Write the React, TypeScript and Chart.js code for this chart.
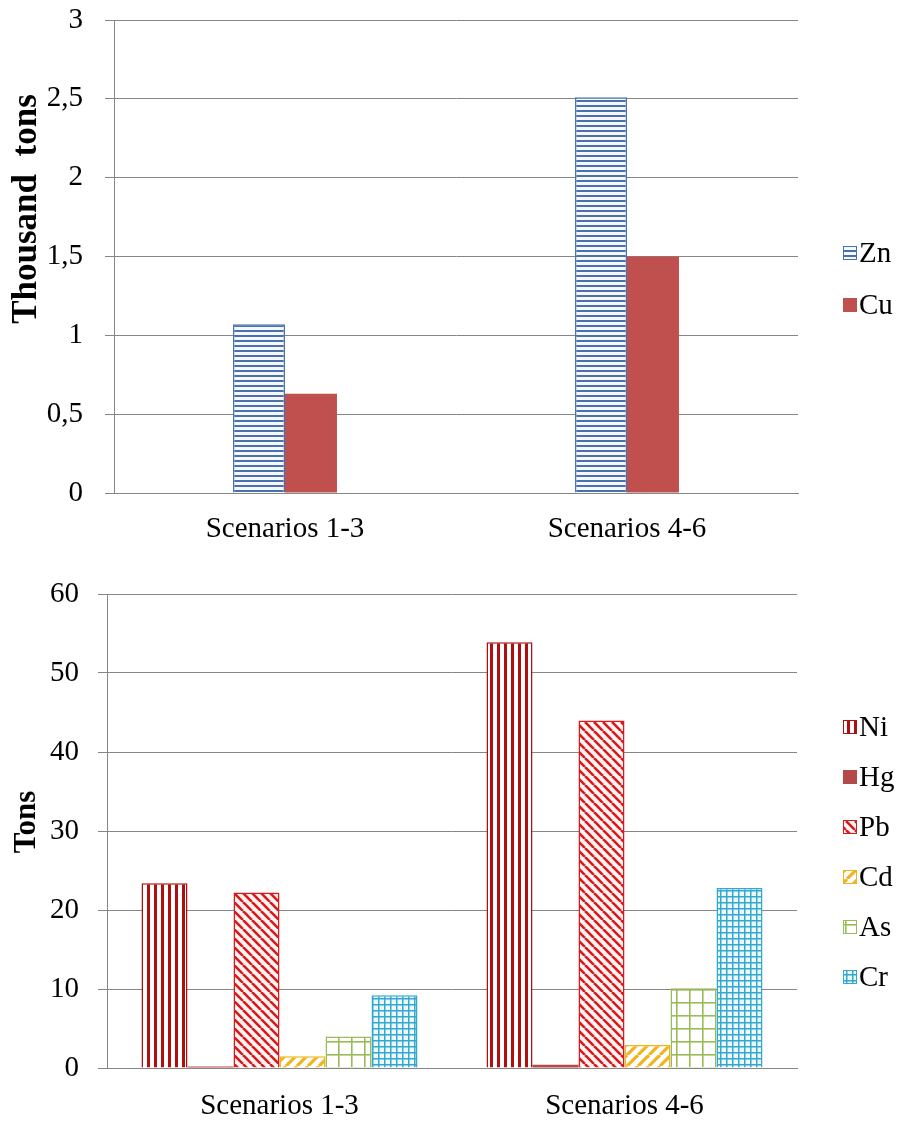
import React, { useEffect, useRef } from 'react';
import { Chart, registerables } from 'chart.js';

Chart.register(...registerables);

// ---------- data ----------
const categories = ['Scenarios 1-3', 'Scenarios 4-6'];

const topSeriesNames = ['Zn', 'Cu'];
const znValues = [1.07, 2.51];
const cuValues = [0.63, 1.5];
const topTickLabels = ['0', '0,5', '1', '1,5', '2', '2,5', '3'];
const topAxisTitle = 'Thousand  tons';

const bottomSeriesNames = ['Ni', 'Hg', 'Pb', 'Cd', 'As', 'Cr'];
const niValues = [23.4, 53.9];
const hgValues = [0.2, 0.4];
const pbValues = [22.2, 44.0];
const cdValues = [1.5, 2.9];
const asValues = [4.0, 10.1];
const crValues = [9.2, 22.8];
const bottomTickLabels = ['0', '10', '20', '30', '40', '50', '60'];
const bottomAxisTitle = 'Tons';

// ---------- styling ----------
const FONT = "'Liberation Serif', 'Times New Roman', serif";
const GRID = '#868686';
const TEXT_SIZE = 29;

function makePattern(kind: string, fg: string, bg: string): CanvasPattern | string {
  const c = document.createElement('canvas');
  let w = 8;
  let h = 8;
  if (kind === 'hstripe') { w = 8; h = 5; }
  if (kind === 'vstripe') { w = 7; h = 8; }
  if (kind === 'diagDown') { w = 9; h = 9; }
  if (kind === 'diagUp') { w = 11; h = 11; }
  if (kind === 'bigGrid') { w = 13; h = 13; }
  if (kind === 'smallGrid') { w = 6; h = 6; }
  c.width = w;
  c.height = h;
  const g = c.getContext('2d');
  if (!g) return fg;
  g.fillStyle = bg;
  g.fillRect(0, 0, w, h);
  g.fillStyle = fg;
  g.strokeStyle = fg;
  if (kind === 'hstripe') {
    g.fillRect(0, 0, w, 2);
  } else if (kind === 'vstripe') {
    g.fillRect(0, 0, 3, h);
  } else if (kind === 'diagDown' || kind === 'diagUp') {
    g.lineWidth = kind === 'diagDown' ? 2.6 : 3.2;
    for (const o of [-w, 0, w]) {
      g.beginPath();
      if (kind === 'diagDown') {
        g.moveTo(o, 0);
        g.lineTo(o + w, h);
      } else {
        g.moveTo(o, h);
        g.lineTo(o + w, 0);
      }
      g.stroke();
    }
  } else if (kind === 'bigGrid' || kind === 'smallGrid') {
    const lw = kind === 'bigGrid' ? 1.6 : 1.5;
    g.fillRect(0, 0, w, lw);
    g.fillRect(0, 0, lw, h);
  }
  return g.createPattern(c, 'repeat') || fg;
}

const titlePlugin = (text: string, x: number, y: number, size: number) => ({
  id: 'sideTitle',
  afterDraw(chart: any) {
    const ctx = chart.ctx;
    ctx.save();
    ctx.translate(x, y);
    ctx.rotate(-Math.PI / 2);
    ctx.font = `bold ${size}px ${FONT}`;
    ctx.fillStyle = '#000';
    ctx.textAlign = 'center';
    ctx.textBaseline = 'middle';
    ctx.fillText(text, 0, 0);
    ctx.restore();
  },
});

const legendPlugin = (x: number, firstY: number, step: number) => ({
  id: 'sideLegend',
  afterDraw(chart: any) {
    const ctx = chart.ctx;
    ctx.save();
    chart.data.datasets.forEach((ds: any, i: number) => {
      const cy = firstY + i * step;
      ctx.fillStyle = ds.backgroundColor;
      ctx.fillRect(x, cy - 7, 14, 14);
      ctx.strokeStyle = ds.borderColor;
      ctx.lineWidth = 1;
      ctx.strokeRect(x + 0.5, cy - 6.5, 13, 13);
      ctx.fillStyle = '#000';
      ctx.font = `${TEXT_SIZE}px ${FONT}`;
      ctx.textAlign = 'left';
      ctx.textBaseline = 'middle';
      ctx.fillText(ds.label, x + 16, cy + 1);
    });
    ctx.restore();
  },
});

function baseOptions(opts: {
  max: number;
  step: number;
  labels: string[];
  axisWidth: number;
  xHeight: number;
  padTop: number;
  padRight: number;
  catPct: number;
  yPad: number;
  xPad: number;
}) {
  return {
    responsive: false,
    animation: false as const,
    events: [],
    layout: { padding: { top: opts.padTop, right: opts.padRight, left: 0, bottom: 0 } },
    plugins: { legend: { display: false }, tooltip: { enabled: false }, title: { display: false } },
    datasets: { bar: { categoryPercentage: opts.catPct, barPercentage: 1 } },
    scales: {
      x: {
        grid: { display: false, drawTicks: false },
        border: { display: true, color: GRID, width: 1 },
        ticks: { color: '#000', font: { family: FONT, size: TEXT_SIZE }, padding: opts.xPad, maxRotation: 0 },
        afterFit: (s: any) => { s.height = opts.xHeight; s.paddingLeft = 0; s.paddingRight = 0; },
      },
      y: {
        min: 0,
        max: opts.max,
        grid: { color: GRID, lineWidth: 1, tickLength: 9, drawTicks: true },
        border: { display: true, color: GRID, width: 1 },
        ticks: {
          stepSize: opts.step,
          color: '#000',
          padding: opts.yPad,
          font: { family: FONT, size: TEXT_SIZE },
          callback: (_v: any, i: number) => opts.labels[i],
        },
        afterFit: (s: any) => { s.width = opts.axisWidth; s.paddingTop = 0; s.paddingBottom = 0; },
      },
    },
  };
}

export default function App() {
  const topRef = useRef<HTMLCanvasElement>(null);
  const botRef = useRef<HTMLCanvasElement>(null);

  useEffect(() => {
    if (!topRef.current || !botRef.current) return;

    const znColor = '#4A70AE';
    const cuColor = '#C0504D';
    const top = new Chart(topRef.current, {
      type: 'bar',
      data: {
        labels: categories,
        datasets: [
          {
            label: topSeriesNames[0],
            data: znValues,
            backgroundColor: makePattern('hstripe', znColor, '#F5F9FF'),
            borderColor: znColor,
            borderWidth: 1.5,
          },
          {
            label: topSeriesNames[1],
            data: cuValues,
            backgroundColor: cuColor,
            borderColor: cuColor,
            borderWidth: 0,
          },
        ],
      },
      options: baseOptions({
        max: 3, step: 0.5, labels: topTickLabels, axisWidth: 114, xHeight: 67,
        padTop: 20, padRight: 108, catPct: 0.304, yPad: 22, xPad: 19,
      }) as any,
      plugins: [titlePlugin(topAxisTitle, 27, 209, 35), legendPlugin(843, 253, 52)],
    });

    const niColor = '#B00F0F';
    const hgColor = '#B34A47';
    const pbColor = '#D51B1B';
    const cdColor = '#F0B51E';
    const asColor = '#9BBB59';
    const crColor = '#33A8D0';
    const bot = new Chart(botRef.current, {
      type: 'bar',
      data: {
        labels: categories,
        datasets: [
          { label: bottomSeriesNames[0], data: niValues, backgroundColor: makePattern('vstripe', niColor, '#FFFFFF'), borderColor: niColor, borderWidth: 1.5 },
          { label: bottomSeriesNames[1], data: hgValues, backgroundColor: hgColor, borderColor: hgColor, borderWidth: 0 },
          { label: bottomSeriesNames[2], data: pbValues, backgroundColor: makePattern('diagDown', pbColor, '#FFF3F3'), borderColor: pbColor, borderWidth: 1.5 },
          { label: bottomSeriesNames[3], data: cdValues, backgroundColor: makePattern('diagUp', cdColor, '#FFFFFF'), borderColor: cdColor, borderWidth: 1.5 },
          { label: bottomSeriesNames[4], data: asValues, backgroundColor: makePattern('bigGrid', asColor, '#FFFFFF'), borderColor: asColor, borderWidth: 1.5 },
          { label: bottomSeriesNames[5], data: crValues, backgroundColor: makePattern('smallGrid', crColor, '#EEF9FD'), borderColor: crColor, borderWidth: 1.5 },
        ],
      },
      options: baseOptions({
        max: 60, step: 10, labels: bottomTickLabels, axisWidth: 107, xHeight: 56,
        padTop: 34, padRight: 109, catPct: 0.8, yPad: 19, xPad: 21,
      }) as any,
      plugins: [titlePlugin(bottomAxisTitle, 27, 262, 31), legendPlugin(843, 167, 50)],
    });

    return () => {
      top.destroy();
      bot.destroy();
    };
  }, []);

  return (
    <div style={{ position: 'absolute', left: 0, top: 0, width: 906, height: 1124, background: '#fff' }}>
      <canvas ref={topRef} width={906} height={560} style={{ position: 'absolute', left: 0, top: 0, width: 906, height: 560 }} />
      <canvas ref={botRef} width={906} height={564} style={{ position: 'absolute', left: 0, top: 560, width: 906, height: 564 }} />
    </div>
  );
}
